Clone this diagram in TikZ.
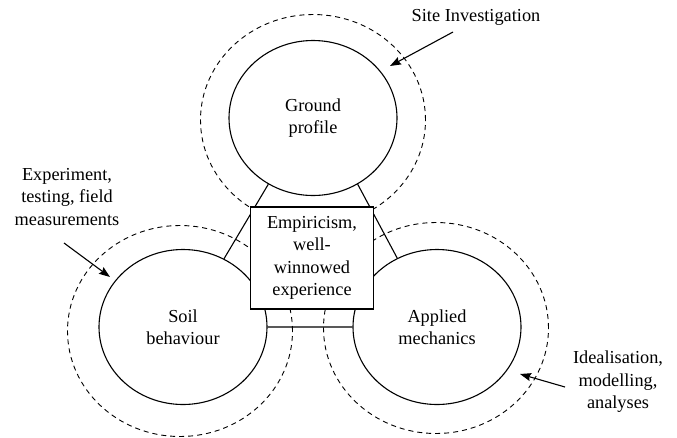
\documentclass[tikz,border=0pt]{standalone}
\usepackage{fontspec}
\setmainfont{Liberation Serif}
\usetikzlibrary{shapes.geometric, positioning, arrows.meta}
\tikzset{
  >={Stealth[length=11pt, width=8pt, inset=1.5pt]},
  x=1pt, y=-1pt,
  every node/.style={font=\fontsize{18.3}{22.5}\selectfont, align=center},
  topic/.style={ellipse, draw, line width=1.1pt, minimum width=168pt, minimum height=155pt, inner sep=0pt},
  halo/.style={ellipse, draw, line width=0.9pt, dash pattern=on 5pt off 4pt, minimum width=225pt, minimum height=211pt},
  core/.style={rectangle, draw, line width=1.1pt, fill=white, minimum width=123pt, minimum height=102pt, inner sep=0pt},
  pointer/.style={->, line width=1.1pt},
}

\begin{document}
\begin{tikzpicture}
        \useasboundingbox (0,0) rectangle (677,437);

        % circles
        \node[topic] (ground) at (313,118) {Ground\\profile};
        \node[topic] (soil) at (183,327) {Soil\\behaviour};
        \node[topic] (mech) at (437,327) {Applied\\mechanics};
        \node[halo] (groundhalo) at (313,120) {};
        \node[halo] (soilhalo) at (180,331) {};
        \node[halo] (mechhalo) at (436,328) {};

        % links between the circles
        \draw[line width=1.1pt] (ground.236) -- (soil.59)
              (ground.304) -- (mech.120)
              (soil.east) -- (mech.west);

        % centre box
        \node[core] (empiric) at (312,258) {Empiricism,\\well-\\winnowed\\experience};

        % labels
        \node (site) at (476,17) {Site Investigation};
        \node (expt) at (67,197) {Experiment,\\testing, field\\measurements};
        \node (ideal) at (618,382) {Idealisation,\\modelling,\\analyses};
        \coordinate (sitestart) at (453,32);
        \coordinate (siteend) at (390,66);
        \coordinate (exptstart) at (64,243);
        \coordinate (exptend) at (110,277);
        \coordinate (idealstart) at (565,387);
        \coordinate (idealend) at (520,374);

        % arrows
        \draw[pointer] (sitestart) -- (siteend);
        \draw[pointer] (exptstart) -- (exptend);
        \draw[pointer] (idealstart) -- (idealend);
      \end{tikzpicture}
\end{document}
